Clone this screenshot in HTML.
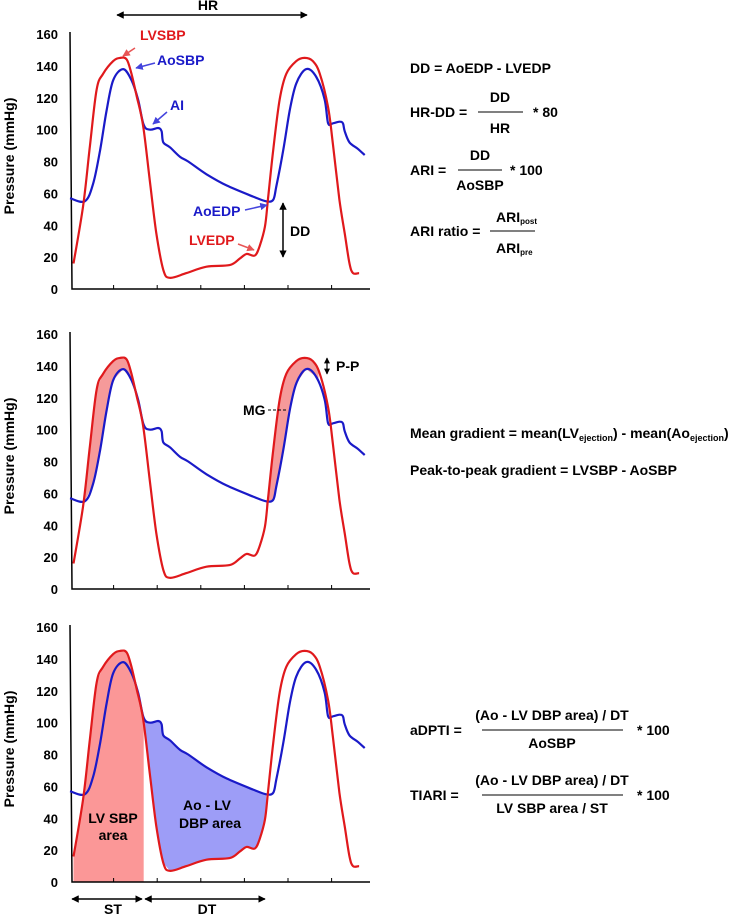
<!DOCTYPE html>
<html><head><meta charset="utf-8"><style>
body{margin:0;background:#fff;}
svg{display:block;font-family:"Liberation Sans",Arial,sans-serif;font-weight:bold;}
</style></head><body>
<svg id="chart" width="742" height="914" viewBox="0 0 742 914" xmlns="http://www.w3.org/2000/svg">
<defs>
<marker id="ah" viewBox="0 0 10 10" refX="9" refY="5" markerWidth="5" markerHeight="5" orient="auto-start-reverse"><path d="M0,0L10,5L0,10z" fill="#000"/></marker>
<marker id="ahr" viewBox="0 0 10 10" refX="9" refY="5" markerWidth="5" markerHeight="5" orient="auto"><path d="M0,0L10,5L0,10z" fill="#e85555"/></marker>
<marker id="ahb" viewBox="0 0 10 10" refX="9" refY="5" markerWidth="5" markerHeight="5" orient="auto"><path d="M0,0L10,5L0,10z" fill="#4444dd"/></marker>
</defs>
<g id="plots"></g>
<!-- panel 1 annotations -->
<line x1="117" y1="15" x2="307" y2="15" stroke="#000" stroke-width="1.5" marker-start="url(#ah)" marker-end="url(#ah)"/>
<text x="208" y="10" font-size="14" text-anchor="middle">HR</text>
<text x="140" y="40" font-size="14" fill="#e0191c">LVSBP</text>
<line x1="135" y1="48" x2="123" y2="56" stroke="#e85555" stroke-width="1.5" marker-end="url(#ahr)"/>
<text x="157" y="65" font-size="14" fill="#1a1ac8">AoSBP</text>
<line x1="155" y1="63" x2="136" y2="68" stroke="#4444dd" stroke-width="1.5" marker-end="url(#ahb)"/>
<text x="170" y="110" font-size="14" fill="#1a1ac8">AI</text>
<line x1="167" y1="112" x2="153" y2="124" stroke="#4444dd" stroke-width="1.5" marker-end="url(#ahb)"/>
<text x="193" y="216" font-size="14" fill="#1a1ac8">AoEDP</text>
<line x1="245" y1="210" x2="267" y2="205" stroke="#4444dd" stroke-width="1.5" marker-end="url(#ahb)"/>
<text x="189" y="245" font-size="14" fill="#e0191c">LVEDP</text>
<line x1="238" y1="244" x2="254" y2="250" stroke="#e85555" stroke-width="1.5" marker-end="url(#ahr)"/>
<line x1="283" y1="203" x2="283" y2="257" stroke="#000" stroke-width="1.5" marker-start="url(#ah)" marker-end="url(#ah)"/>
<text x="290" y="236" font-size="14">DD</text>
<!-- panel 1 formulas -->
<g font-size="14">
<text x="410" y="73">DD = AoEDP - LVEDP</text>
<text x="410" y="117">HR-DD =</text>
<text x="500" y="102" text-anchor="middle">DD</text>
<line x1="478" y1="112" x2="523" y2="112" stroke="#000" stroke-width="1"/>
<text x="500" y="133" text-anchor="middle">HR</text>
<text x="533" y="117">* 80</text>
<text x="410" y="175">ARI =</text>
<text x="480" y="160" text-anchor="middle">DD</text>
<line x1="458" y1="170" x2="502" y2="170" stroke="#000" stroke-width="1"/>
<text x="480" y="190" text-anchor="middle">AoSBP</text>
<text x="510" y="175">* 100</text>
<text x="410" y="236">ARI ratio =</text>
<text x="496" y="222">ARI<tspan font-size="8" dy="2">post</tspan></text>
<line x1="490" y1="231" x2="535" y2="231" stroke="#000" stroke-width="1"/>
<text x="496" y="253">ARI<tspan font-size="8" dy="2">pre</tspan></text>
</g>
<!-- panel 2 annotations -->
<line x1="327" y1="358" x2="327" y2="374" stroke="#000" stroke-width="1.2" marker-start="url(#ah)" marker-end="url(#ah)"/>
<text x="336" y="371" font-size="14">P-P</text>
<text x="243" y="415" font-size="14">MG</text>
<line x1="268" y1="410" x2="286" y2="410" stroke="#000" stroke-width="1" stroke-dasharray="3,2"/>
<g font-size="14">
<text x="410" y="438">Mean gradient = mean(LV<tspan font-size="9" dy="3">ejection</tspan><tspan dy="-3">) - mean(Ao</tspan><tspan font-size="9" dy="3">ejection</tspan><tspan dy="-3">)</tspan></text>
<text x="410" y="475">Peak-to-peak gradient = LVSBP - AoSBP</text>
</g>
<!-- panel 3 annotations -->
<g font-size="14" text-anchor="middle">
<text x="113" y="823">LV SBP</text>
<text x="113" y="840">area</text>
<text x="207" y="810">Ao - LV</text>
<text x="210" y="828">DBP area</text>
</g>
<line x1="72" y1="899" x2="142" y2="899" stroke="#000" stroke-width="1.5" marker-start="url(#ah)" marker-end="url(#ah)"/>
<line x1="145" y1="899" x2="265" y2="899" stroke="#000" stroke-width="1.5" marker-start="url(#ah)" marker-end="url(#ah)"/>
<text x="113" y="914" font-size="14" text-anchor="middle">ST</text>
<text x="207" y="914" font-size="14" text-anchor="middle">DT</text>
<g font-size="14">
<text x="410" y="735">aDPTI =</text>
<text x="552" y="720" text-anchor="middle">(Ao - LV DBP area) / DT</text>
<line x1="482" y1="730" x2="623" y2="730" stroke="#000" stroke-width="1"/>
<text x="552" y="748" text-anchor="middle">AoSBP</text>
<text x="637" y="735">* 100</text>
<text x="410" y="800">TIARI =</text>
<text x="552" y="785" text-anchor="middle">(Ao - LV DBP area) / DT</text>
<line x1="482" y1="795" x2="623" y2="795" stroke="#000" stroke-width="1"/>
<text x="552" y="813" text-anchor="middle">LV SBP area / ST</text>
<text x="637" y="800">* 100</text>
</g>
</svg>
<script>
const lvT = [0.08,0.3,0.45,0.61,0.76,0.99,1.15,1.3,1.41,1.53,1.68,1.83,1.98,2.14,2.29,2.67,3.13,3.66,3.89,4.05,4.24,4.35,4.47,4.54,4.66,4.81,4.96,5.19,5.38,5.57,5.73,5.92,6.03,6.18,6.3,6.41,6.49,6.63];
const lvP = [16,52,88,125,135,143,145,144,135,121,102,68,35,12,7,10,14,15,19,22,21,27,39,56,87,119,135,143,145,143,135,114,91,56,35,16,10,10];
const aoT = [0,0.34,0.53,0.69,0.84,0.99,1.22,1.41,1.56,1.69,1.83,2.02,2.1,2.14,2.29,2.52,2.71,3.13,3.59,4.2,4.5,4.66,4.73,4.89,5.04,5.19,5.42,5.65,5.84,5.92,6.03,6.18,6.26,6.3,6.41,6.6,6.76];
const aoP = [57,55,66,87,112,131,138,131,119,103,100,101,99,92,89,83,80,72,65,58,55,56,64,87,112,129,138,133,119,104,104,105,104,99,92,88,84];
const yTicks = [0,20,40,60,80,100,120,140,160];
const xTicks = [1,2,3,4,5,6];
const panelBottoms = [289,589,882];
const NS="http://www.w3.org/2000/svg";
const g=document.getElementById('plots');
function X(t){return 70+t*43.6;}
function mk(tag,attrs,parent){const e=document.createElementNS(NS,tag);for(const k in attrs)e.setAttribute(k,attrs[k]);(parent||g).appendChild(e);return e;}
function interp(T,P,t){if(t<=T[0])return P[0];for(let i=1;i<T.length;i++){if(t<=T[i]){const f=(t-T[i-1])/(T[i]-T[i-1]);return P[i-1]+f*(P[i]-P[i-1]);}}return P[P.length-1];}
function ptsRange(T,P,a,b,Y){const out=[[a,interp(T,P,a)]];for(let i=0;i<T.length;i++)if(T[i]>a&&T[i]<b)out.push([T[i],P[i]]);out.push([b,interp(T,P,b)]);return out.map(p=>X(p[0]).toFixed(1)+','+Y(p[1]).toFixed(1));}
function smooth(T,P,Y){
  const p=T.map((t,i)=>[X(t),Y(P[i])]);
  let d='M'+p[0][0].toFixed(1)+','+p[0][1].toFixed(1);
  for(let i=0;i<p.length-1;i++){
    const p0=p[i-1]||p[i],p1=p[i],p2=p[i+1],p3=p[i+2]||p2;
    const c1=[p1[0]+(p2[0]-p0[0])/6,p1[1]+(p2[1]-p0[1])/6];
    const c2=[p2[0]-(p3[0]-p1[0])/6,p2[1]-(p3[1]-p1[1])/6];
    d+=`C${c1[0].toFixed(1)},${c1[1].toFixed(1)} ${c2[0].toFixed(1)},${c2[1].toFixed(1)} ${p2[0].toFixed(1)},${p2[1].toFixed(1)}`;
  }
  return d;
}
panelBottoms.forEach((b,pi)=>{
  const Y=p=>b-p*255/160;
  const pg=mk('g',{});
  
  
  if(pi===1){
    [[0.32,1.45],[4.5,5.7]].forEach((r,k)=>{
      const a=ptsRange(lvT,lvP,r[0],r[1],Y), c=ptsRange(aoT,aoP,r[0],r[1],Y).reverse();
      const f=mk('polygon',{points:a.concat(c).join(' '),fill:'#f59a9a'},pg);
      
      
    });
  }
  if(pi===2){
    const a=ptsRange(lvT,lvP,0.08,1.69,Y);
    const f1=mk('polygon',{points:a.concat([X(1.69)+','+Y(0),X(0.08)+','+Y(0)]).join(' '),fill:'#fb9797'},pg);
    
    
    const c=ptsRange(aoT,aoP,1.69,4.5,Y), d=ptsRange(lvT,lvP,1.69,4.5,Y).reverse();
    const f2=mk('polygon',{points:c.concat(d).join(' '),fill:'#9d9df7'},pg);
    
    
  }
  const ax=mk('path',{d:`M70,${b-257}L72,${b}L370,${b}`,stroke:'#000','stroke-width':1.5,fill:'none'},pg);
  
  
  xTicks.forEach(t=>{const l=mk('line',{x1:X(t),x2:X(t),y1:b,y2:b-4,stroke:'#000','stroke-width':1},pg);
    
    });
  yTicks.forEach(v=>{const tx=mk('text',{x:58,y:Y(v)+5,'font-size':13,'text-anchor':'end'},pg);tx.textContent=v;
    
    });
  const yt=mk('text',{x:0,y:0,'font-size':14,'text-anchor':'middle',transform:`translate(14,${b-133}) rotate(-90)`},pg);
  yt.textContent='Pressure (mmHg)';
  
  
  const ao=mk('path',{d:smooth(aoT,aoP,Y),fill:'none',stroke:'#1a1ac8','stroke-width':2.2,'stroke-linejoin':'round'},pg);
  
  
  const lv=mk('path',{d:smooth(lvT,lvP,Y),fill:'none',stroke:'#e0191c','stroke-width':2.2,'stroke-linejoin':'round'},pg);
  
  
});
</script>
</body></html>
